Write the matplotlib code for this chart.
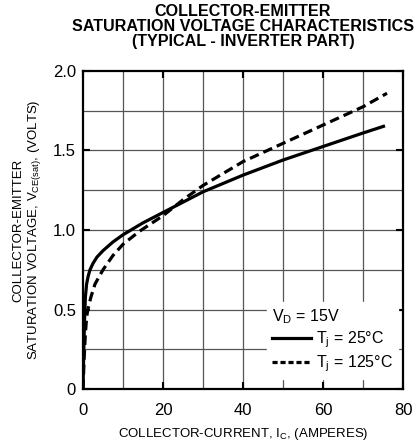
import matplotlib
matplotlib.use("Agg")
import matplotlib.pyplot as plt
from matplotlib.lines import Line2D

plt.rcParams['font.family'] = ['Liberation Sans', 'DejaVu Sans']
plt.rcParams['mathtext.fontset'] = 'custom'
plt.rcParams['mathtext.rm'] = 'Liberation Sans'
plt.rcParams['mathtext.it'] = 'Liberation Sans'
plt.rcParams['mathtext.default'] = 'regular'

# Collector current (A) and V_CE(sat) (V)
ic_25 = [0, 0.2, 0.4, 0.6, 0.9, 1.3, 1.75, 2.5, 3.5, 5, 7.5, 10, 15, 20, 30, 40, 50, 60, 70, 75.5]
v_25 = [0, 0.25, 0.45, 0.58, 0.66, 0.71, 0.75, 0.79, 0.83, 0.87, 0.925, 0.97, 1.045, 1.11, 1.24, 1.345, 1.44, 1.525, 1.61, 1.655]

ic_125 = [0, 0.3, 0.6, 0.9, 1.2, 2.0, 3.0, 5.0, 7.5, 10, 14, 20, 25, 30, 40, 50, 60, 70, 76]
v_125 = [0, 0.2, 0.35, 0.45, 0.5, 0.58, 0.66, 0.75, 0.84, 0.91, 0.99, 1.09, 1.19, 1.28, 1.43, 1.545, 1.66, 1.775, 1.86]

x_ticks = [0, 20, 40, 60, 80]
x_ticklabels = ['0', '20', '40', '60', '80']
y_ticks = [0, 0.5, 1.0, 1.5, 2.0]
y_ticklabels = ['0', '0.5', '1.0', '1.5', '2.0']

title = "COLLECTOR-EMITTER\nSATURATION VOLTAGE CHARACTERISTICS\n(TYPICAL - INVERTER PART)"
xlabel = "COLLECTOR-CURRENT, I$_C$, (AMPERES)"
ylabel = "COLLECTOR-EMITTER\nSATURATION VOLTAGE, V$_{CE(sat)}$, (VOLTS)"
legend_title = "V$_D$ = 15V"
labels = ["T$_j$ = 25°C", "T$_j$ = 125°C"]

fig = plt.figure(figsize=(4.15, 4.44), dpi=100)
ax = fig.add_axes([83/415, 1-389/444, 320/415, 318/444])

grid_color = '#555555'
for gx in range(10, 80, 10):
    ax.axvline(gx, color=grid_color, lw=0.9, zorder=1)
for gy in [0.25, 0.5, 0.75, 1.0, 1.25, 1.5, 1.75]:
    ax.axhline(gy, color=grid_color, lw=0.9, zorder=1)

ax.plot(ic_25, v_25, color='black', lw=2.3, solid_capstyle='butt', zorder=3)
ax.plot(ic_125, v_125, color='black', lw=2.3, dashes=(3.0, 1.6), zorder=3)

ax.set_xlim(0, 80)
ax.set_ylim(0, 2.0)
ax.set_xticks(x_ticks)
ax.set_xticklabels(x_ticklabels)
ax.set_yticks(y_ticks)
ax.set_yticklabels(y_ticklabels)
ax.tick_params(direction='in', top=True, right=True, length=5, width=1.5,
               labelsize=12, colors='black')
ax.tick_params(axis='x', pad=10)
ax.tick_params(axis='y', pad=5)
for s in ax.spines.values():
    s.set_linewidth(1.6)

ax.set_xlabel(xlabel, fontsize=9.5, labelpad=6)
ax.set_ylabel(ylabel, fontsize=9.5, labelpad=7, linespacing=1.15)
fig.text(243/415, 1-4/444, title, ha='center', va='top', fontsize=11.6,
         fontweight='bold', linespacing=0.98)

handles = [Line2D([], [], color='black', lw=2.3),
           Line2D([], [], color='black', lw=2.3, dashes=(1.6, 0.9))]
leg = ax.legend(handles, labels, title=legend_title, loc='lower right',
                bbox_to_anchor=(0.985, 0.03), fontsize=11.5, title_fontsize=11.5,
                frameon=True, fancybox=False, handlelength=2.4, handletextpad=0.3,
                borderpad=0.35, labelspacing=0.2, borderaxespad=0.0)
leg._legend_box.align = 'left'
leg.get_frame().set_edgecolor('white')
leg.get_frame().set_facecolor('white')
leg.get_frame().set_alpha(1)
leg.set_zorder(5)

fig.savefig('out.png', dpi=100)
